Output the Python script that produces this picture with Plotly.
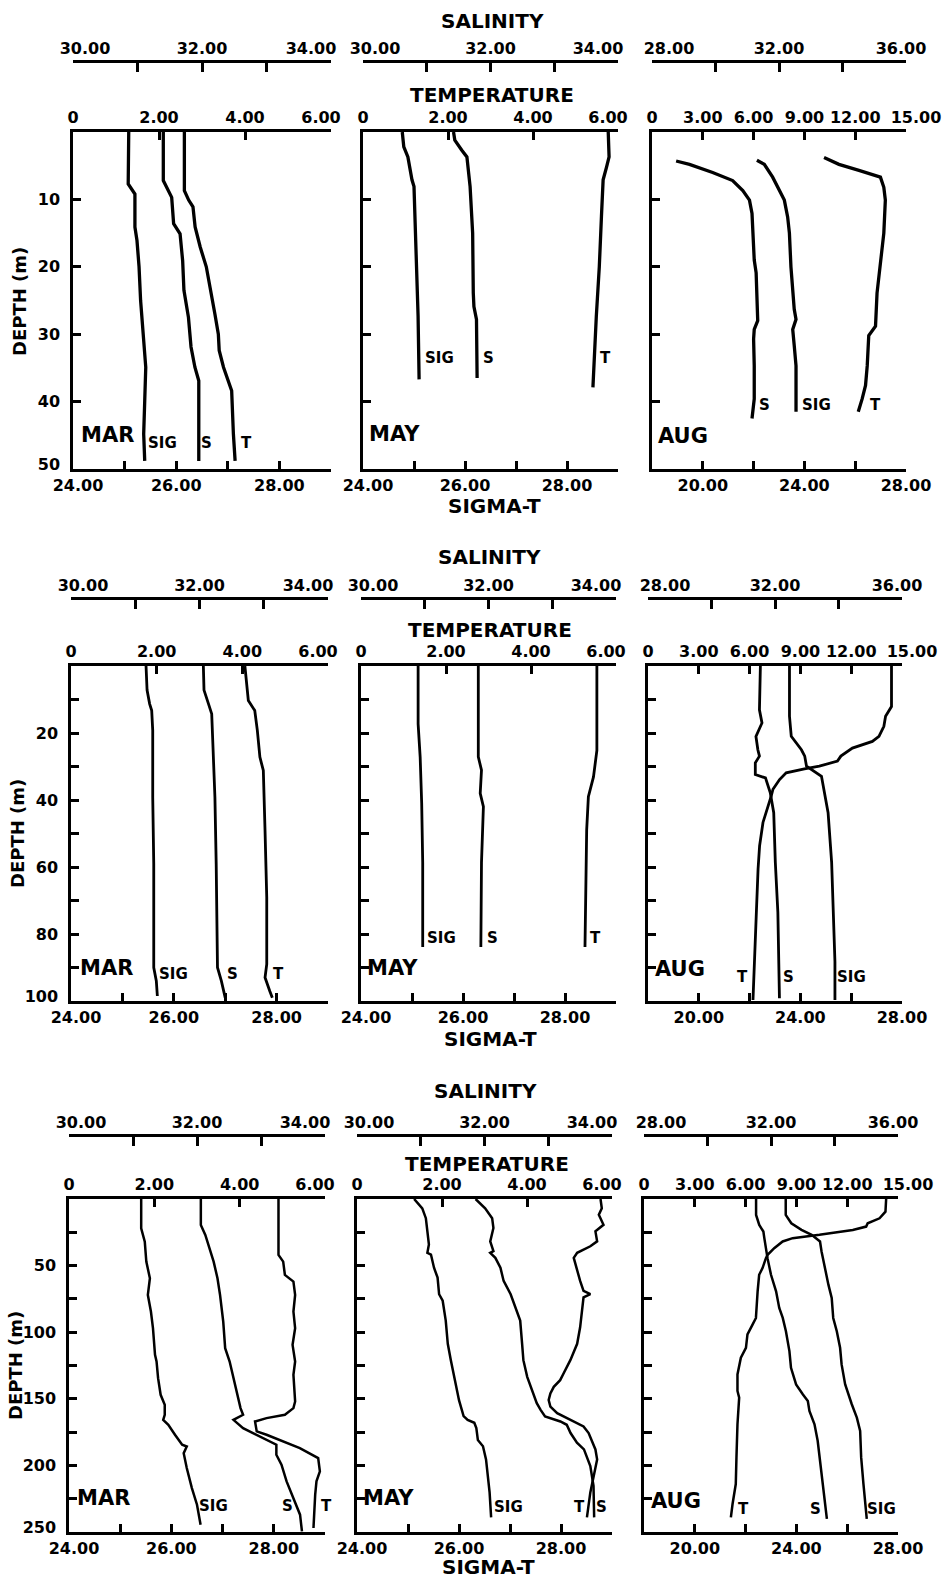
import plotly.graph_objects as go

W, H = 945, 1583
FONT = "DejaVu Sans"

# ---------------- data (depth in m) ----------------
# Row 1 (0-50 m)
MAR50_SIG_DEPTH = [0, 7.7, 9.2, 14.1, 16.1, 20.0, 25.0, 30.0, 34.9, 39.9, 44.8, 48.8]
MAR50_SIG = [25.08, 25.07, 25.20, 25.20, 25.24, 25.28, 25.31, 25.36, 25.41, 25.39, 25.37, 25.39]
MAR50_S_DEPTH = [0, 7.2, 9.7, 13.6, 15.1, 19.1, 23.5, 27.5, 31.9, 34.9, 36.9, 48.8]
MAR50_S = [31.40, 31.40, 31.53, 31.56, 31.66, 31.70, 31.72, 31.79, 31.83, 31.89, 31.95, 31.95]
MAR50_T_DEPTH = [0, 8.7, 10.1, 11.1, 14.1, 17.1, 20.0, 23.0, 27.0, 30.0, 32.4, 34.9, 37.4, 38.4, 44.8, 48.8]
MAR50_T = [2.59, 2.59, 2.69, 2.79, 2.84, 2.96, 3.10, 3.19, 3.30, 3.38, 3.40, 3.50, 3.65, 3.69, 3.73, 3.77]

MAY50_SIG_DEPTH = [0, 2.2, 3.7, 5.7, 7.1, 8.1, 15.0, 22.4, 27.3, 36.7]
MAY50_SIG = [24.77, 24.80, 24.88, 24.92, 24.96, 25.00, 25.03, 25.05, 25.08, 25.10]
MAY50_S_DEPTH = [0, 1.2, 2.7, 3.7, 8.1, 15.0, 23.9, 25.9, 27.8, 36.5]
MAY50_S = [31.42, 31.44, 31.55, 31.63, 31.68, 31.72, 31.73, 31.74, 31.78, 31.79]
MAY50_T_DEPTH = [0, 3.7, 5.2, 7.1, 12.6, 20.0, 27.3, 32.3, 37.9]
MAY50_T = [5.77, 5.79, 5.73, 5.65, 5.61, 5.56, 5.49, 5.45, 5.41]

AUG50_S_DEPTH = [4.3, 4.8, 6.0, 7.2, 8.7, 10.1, 12.1, 15.0, 19.0, 20.9, 24.9, 28.0, 29.3, 30.7, 34.7, 39.6, 42.5]
AUG50_S = [28.76, 29.18, 29.91, 30.54, 30.86, 31.07, 31.15, 31.17, 31.22, 31.28, 31.30, 31.33, 31.22, 31.20, 31.22, 31.22, 31.15]
AUG50_SIG_DEPTH = [4.2, 4.8, 6.7, 8.7, 10.1, 12.6, 15.0, 20.0, 23.9, 26.3, 27.8, 29.3, 31.7, 34.7, 41.5]
AUG50_SIG = [22.13, 22.42, 22.75, 23.01, 23.21, 23.34, 23.41, 23.47, 23.54, 23.60, 23.67, 23.54, 23.60, 23.67, 23.67]
AUG50_T_DEPTH = [3.8, 4.8, 5.7, 6.7, 8.2, 10.1, 15.0, 19.0, 23.9, 28.8, 30.2, 34.7, 37.6, 39.6, 41.5]
AUG50_T = [10.16, 11.04, 12.22, 13.49, 13.69, 13.78, 13.69, 13.49, 13.29, 13.20, 12.80, 12.71, 12.61, 12.41, 12.18]

# Row 2 (0-100 m)
MAR100_SIG_DEPTH = [0, 7.2, 11.3, 13.3, 19.2, 39.2, 59.1, 79.1, 90.0, 94.0, 98.5]
MAR100_SIG = [25.46, 25.48, 25.53, 25.57, 25.59, 25.59, 25.61, 25.61, 25.61, 25.66, 25.68]
MAR100_S_DEPTH = [0, 7.2, 11.3, 14.3, 24.2, 39.2, 59.1, 79.1, 90.0, 94.0, 99.0]
MAR100_S = [32.06, 32.07, 32.14, 32.19, 32.21, 32.24, 32.26, 32.27, 32.28, 32.34, 32.40]
MAR100_T_DEPTH = [0, 4.3, 10.3, 13.3, 19.2, 27.2, 31.2, 49.2, 69.1, 89.0, 93.0, 97.0, 99.0]
MAR100_T = [4.06, 4.10, 4.14, 4.29, 4.35, 4.41, 4.49, 4.53, 4.57, 4.57, 4.53, 4.64, 4.70]

MAY100_SIG_DEPTH = [0, 17.3, 27.1, 41.0, 58.7, 83.9]
MAY100_SIG = [25.12, 25.12, 25.16, 25.19, 25.21, 25.21]
MAY100_S_DEPTH = [0, 27.1, 31.1, 38.0, 42.0, 58.7, 83.9]
MAY100_S = [31.84, 31.84, 31.89, 31.87, 31.92, 31.89, 31.88]
MAY100_T_DEPTH = [0, 25.2, 33.1, 39.0, 48.9, 68.6, 83.9]
MAY100_T = [5.55, 5.55, 5.47, 5.35, 5.31, 5.29, 5.27]

AUG100_T_DEPTH = [0, 12.1, 15.0, 18.0, 21.0, 22.5, 24.5, 26.9, 28.4, 29.9, 30.7, 31.9, 33.9, 36.8, 38.8, 41.8, 46.7, 53.7, 60.6, 73.5, 88.3, 99.7]
AUG100_T = [14.38, 14.38, 14.03, 13.93, 13.64, 13.25, 12.07, 11.39, 11.19, 10.12, 9.24, 8.16, 7.77, 7.38, 7.28, 7.08, 6.79, 6.59, 6.50, 6.40, 6.30, 6.20]
AUG100_S_DEPTH = [0, 13.1, 17.0, 21.0, 25.0, 26.9, 28.9, 32.4, 33.4, 37.8, 43.8, 58.6, 73.5, 88.3, 99.2]
AUG100_S = [31.54, 31.51, 31.59, 31.40, 31.46, 31.51, 31.38, 31.38, 31.70, 31.85, 31.96, 32.01, 32.09, 32.12, 32.14]
AUG100_SIG_DEPTH = [0, 15.0, 21.0, 25.0, 26.9, 29.9, 32.9, 37.8, 43.8, 58.6, 73.5, 88.3, 99.7]
AUG100_SIG = [23.57, 23.57, 23.64, 24.04, 24.17, 24.24, 24.83, 24.96, 25.09, 25.23, 25.29, 25.36, 25.36]

# Row 3 (0-250 m)
MAR250_SIG_DEPTH = [0, 22, 32, 47, 59.5, 72, 84.5, 97, 117, 122, 134.5, 147, 154.5, 162, 165.8, 169.5, 177, 184.5, 185.8, 190.8, 202, 217, 229.5, 244.5]
MAR250_SIG = [25.41, 25.41, 25.48, 25.51, 25.58, 25.54, 25.60, 25.64, 25.68, 25.71, 25.74, 25.79, 25.87, 25.87, 25.84, 25.94, 26.07, 26.21, 26.30, 26.24, 26.30, 26.40, 26.50, 26.57]
MAR250_S_DEPTH = [0, 19.5, 27, 37, 47, 59.5, 72, 92, 112, 122, 134.5, 147, 157, 162, 165.8, 172, 177, 180.8, 184.5, 192, 199.5, 212, 224.5, 237, 249.5]
MAR250_S = [32.06, 32.06, 32.13, 32.19, 32.26, 32.32, 32.36, 32.41, 32.44, 32.51, 32.57, 32.63, 32.68, 32.72, 32.57, 32.72, 32.93, 33.08, 33.24, 33.24, 33.32, 33.40, 33.51, 33.61, 33.64]
MAR250_T_DEPTH = [0, 42, 47, 57, 62, 72, 84.5, 97, 109.5, 122, 132, 139.5, 152, 157, 162, 164.5, 167, 174.5, 177, 187, 194.5, 204.5, 212, 222, 247]
MAR250_T = [4.91, 4.91, 5.02, 5.06, 5.26, 5.30, 5.26, 5.30, 5.24, 5.30, 5.26, 5.27, 5.30, 5.26, 5.06, 4.63, 4.36, 4.40, 4.63, 5.41, 5.84, 5.88, 5.80, 5.77, 5.73]

MAY250_SIG_DEPTH = [0, 7, 14.4, 26.8, 34.2, 40.4, 41.7, 51.6, 59, 71.5, 76.4, 91.3, 108.7, 121, 133.5, 151, 163, 165.8, 168, 172, 181, 185.6, 195.5, 210.4, 220.3, 239]
MAY250_SIG = [25.12, 25.28, 25.35, 25.38, 25.41, 25.38, 25.45, 25.51, 25.58, 25.61, 25.68, 25.74, 25.78, 25.84, 25.91, 26.00, 26.09, 26.17, 26.30, 26.34, 26.37, 26.47, 26.53, 26.57, 26.60, 26.63]
MAY250_S_DEPTH = [0, 7, 14.4, 21.8, 31.8, 39.2, 40.4, 44.2, 51.6, 61.5, 71.5, 81.4, 91.3, 108.7, 121, 133.5, 143.4, 153.3, 158.3, 163.3, 167, 169.5, 175.7, 183, 188, 200.5, 215.4, 239]
MAY250_S = [31.86, 32.01, 32.12, 32.14, 32.09, 32.14, 32.09, 32.17, 32.25, 32.30, 32.41, 32.48, 32.56, 32.59, 32.61, 32.67, 32.75, 32.82, 32.88, 32.95, 33.19, 33.29, 33.35, 33.45, 33.56, 33.66, 33.71, 33.72]
MAY250_T_DEPTH = [0, 7, 11.9, 19.4, 24.3, 31.8, 35.5, 40.4, 44.2, 54.1, 61.5, 69, 71.5, 73.9, 83.9, 96.3, 108.7, 121, 131, 136, 141, 145.9, 150.9, 155.8, 160.8, 165.8, 170.7, 175.7, 188, 195.5, 208, 220.3, 239]
MAY250_T = [5.73, 5.76, 5.69, 5.80, 5.61, 5.65, 5.49, 5.18, 5.10, 5.18, 5.25, 5.33, 5.49, 5.33, 5.29, 5.25, 5.18, 5.02, 4.86, 4.78, 4.63, 4.55, 4.51, 4.55, 4.71, 5.02, 5.33, 5.45, 5.61, 5.65, 5.57, 5.49, 5.41]

AUG250_T_DEPTH = [0, 9.5, 14.5, 18.2, 20.7, 23.2, 26.9, 29.4, 31.9, 36.9, 41.9, 44.4, 51.9, 56.9, 69.3, 89.3, 94.3, 101.7, 111.7, 119.2, 131.7, 144.1, 149.1, 169.1, 194, 214, 229, 239]
AUG250_T = [14.30, 14.26, 13.91, 13.21, 13.12, 12.33, 10.36, 8.78, 8.19, 7.69, 7.30, 7.20, 7.00, 6.80, 6.71, 6.61, 6.41, 6.11, 6.02, 5.72, 5.52, 5.52, 5.62, 5.52, 5.46, 5.42, 5.23, 5.13]
AUG250_S_DEPTH = [0, 12, 19.5, 24.4, 29.4, 36.9, 44.4, 56.9, 69.3, 81.8, 89.3, 99.3, 114.2, 126.7, 139.2, 146.6, 151.6, 159.1, 169.1, 181.5, 194, 214, 226.4, 240.1]
AUG250_S = [31.53, 31.53, 31.63, 31.76, 31.79, 31.84, 31.89, 32.00, 32.16, 32.26, 32.37, 32.47, 32.58, 32.63, 32.79, 33.00, 33.16, 33.21, 33.37, 33.47, 33.53, 33.63, 33.68, 33.76]
AUG250_SIG_DEPTH = [0, 12, 18.2, 23.2, 26.9, 31.9, 39.4, 51.9, 64.3, 74.3, 89.3, 99.3, 111.7, 124.2, 139.2, 154.1, 164.1, 174.1, 194, 214, 229, 240.1]
AUG250_SIG = [23.58, 23.58, 23.80, 24.20, 24.60, 24.93, 24.99, 25.12, 25.26, 25.39, 25.45, 25.59, 25.72, 25.78, 25.92, 26.18, 26.38, 26.51, 26.55, 26.64, 26.71, 26.77]

# ---------------- axis tick definitions ----------------
SAL_TICKS_A = [30, 31, 32, 33, 34]
SAL_TEXT_A = ["30.00", "", "32.00", "", "34.00"]
TEMP_TICKS_A = [0, 2, 4, 6]
TEMP_TEXT_A = ["0", "2.00", "4.00", "6.00"]
SIG_TICKS_A = [24, 25, 26, 27, 28, 29]
SIG_TEXT_A = ["24.00", "", "26.00", "", "28.00", ""]

SAL_TICKS_B = [28, 30, 32, 34, 36]
SAL_TEXT_B = ["28.00", "", "32.00", "", "36.00"]
TEMP_TICKS_B = [0, 3, 6, 9, 12, 15]
TEMP_TEXT_B = ["0", "3.00", "6.00", "9.00", "12.00", "15.00"]
SIG_TICKS_B = [18, 20, 22, 24, 26, 28]
SIG_TEXT_B = ["", "20.00", "", "24.00", "", "28.00"]

# horizontal nudges (px) of individual tick labels, as lettered in the original
SAL_SHIFT_A = [12, 0, 0, 0, -20]
TEMP_SHIFT_A = [0, 0, 0, -10]
SIG_SHIFT_A = [5, 0, 0, 0, 0, 0]
SAL_SHIFT_B = [17, 0, 0, 0, -5]
TEMP_SHIFT_B = [0, 0, 0, 0, 0, 10]
SIG_SHIFT_B = [0, 0, 0, 0, 0, 0]

COL_AXES = [
    dict(sal=(30, 34, SAL_TICKS_A, SAL_TEXT_A, SAL_SHIFT_A), temp=(0, 6, TEMP_TICKS_A, TEMP_TEXT_A, TEMP_SHIFT_A),
         sig=(24, 29, SIG_TICKS_A, SIG_TEXT_A, SIG_SHIFT_A)),
    dict(sal=(30, 34, SAL_TICKS_A, SAL_TEXT_A, SAL_SHIFT_A), temp=(0, 6, TEMP_TICKS_A, TEMP_TEXT_A, TEMP_SHIFT_A),
         sig=(24, 29, SIG_TICKS_A, SIG_TEXT_A, SIG_SHIFT_A)),
    dict(sal=(28, 36, SAL_TICKS_B, SAL_TEXT_B, SAL_SHIFT_B), temp=(0, 15, TEMP_TICKS_B, TEMP_TEXT_B, TEMP_SHIFT_B),
         sig=(18, 28, SIG_TICKS_B, SIG_TEXT_B, SIG_SHIFT_B)),
]

DEPTH_MAX = [50, 100, 250]
DEPTH_TICKS = [[10, 20, 30, 40, 50], list(range(10, 101, 10)), list(range(25, 251, 25))]
DEPTH_TEXT = [["10", "20", "30", "40", "50"],
              ["", "20", "", "40", "", "60", "", "80", "", "100"],
              ["", "50", "", "100", "", "150", "", "200", "", "250"]]
DEPTH_LAST_SHIFT = 5   # bottom depth label sits slightly above its tick in the original

# ---------------- layout geometry (pixels) ----------------
ROW_Y = [(132, 469), (666, 1001), (1199, 1532)]
SAL_LINE = [61, 598, 1135]
COL_X = [[(73, 331), (363, 618), (652, 906)],
         [(71, 328), (361, 616), (648, 902)],
         [(69, 325), (357, 612), (644, 898)]]
LINE_W = [3.3, 2.8, 2.5]

PANELS = [
    ("MAR", (MAR50_T_DEPTH, MAR50_T), (MAR50_S_DEPTH, MAR50_S), (MAR50_SIG_DEPTH, MAR50_SIG)),
    ("MAY", (MAY50_T_DEPTH, MAY50_T), (MAY50_S_DEPTH, MAY50_S), (MAY50_SIG_DEPTH, MAY50_SIG)),
    ("AUG", (AUG50_T_DEPTH, AUG50_T), (AUG50_S_DEPTH, AUG50_S), (AUG50_SIG_DEPTH, AUG50_SIG)),
    ("MAR", (MAR100_T_DEPTH, MAR100_T), (MAR100_S_DEPTH, MAR100_S), (MAR100_SIG_DEPTH, MAR100_SIG)),
    ("MAY", (MAY100_T_DEPTH, MAY100_T), (MAY100_S_DEPTH, MAY100_S), (MAY100_SIG_DEPTH, MAY100_SIG)),
    ("AUG", (AUG100_T_DEPTH, AUG100_T), (AUG100_S_DEPTH, AUG100_S), (AUG100_SIG_DEPTH, AUG100_SIG)),
    ("MAR", (MAR250_T_DEPTH, MAR250_T), (MAR250_S_DEPTH, MAR250_S), (MAR250_SIG_DEPTH, MAR250_SIG)),
    ("MAY", (MAY250_T_DEPTH, MAY250_T), (MAY250_S_DEPTH, MAY250_S), (MAY250_SIG_DEPTH, MAY250_SIG)),
    ("AUG", (AUG250_T_DEPTH, AUG250_T), (AUG250_S_DEPTH, AUG250_S), (AUG250_SIG_DEPTH, AUG250_SIG)),
]

MONTH_POS = [(107, 435), (394, 434), (683, 436),
             (106, 968), (392, 968), (680, 969),
             (103, 1498), (388, 1498), (676, 1501)]
CURVE_LABELS = [
    ("SIG", 162, 443), ("S", 206, 443), ("T", 246, 443),
    ("SIG", 439, 358), ("S", 488, 358), ("T", 605, 358),
    ("S", 764, 405), ("SIG", 816, 405), ("T", 875, 405),
    ("SIG", 173, 974), ("S", 232, 974), ("T", 278, 974),
    ("SIG", 441, 938), ("S", 493, 938), ("T", 595, 938),
    ("T", 742, 977), ("S", 788, 977), ("SIG", 851, 977),
    ("SIG", 213, 1506), ("S", 287, 1506), ("T", 326, 1506),
    ("SIG", 508, 1507), ("T", 579, 1507), ("S", 601, 1507),
    ("T", 743, 1509), ("S", 815, 1509), ("SIG", 881, 1509),
]
TITLES = [
    ("SALINITY", 492, 21), ("TEMPERATURE", 492, 95), ("SIGMA-T", 494, 506),
    ("SALINITY", 489, 557), ("TEMPERATURE", 490, 630), ("SIGMA-T", 490, 1039),
    ("SALINITY", 486, 1091), ("TEMPERATURE", 487, 1164), ("SIGMA-T", 488, 1567),
]
DEPTH_TITLES = [(19, 302), (18, 834), (15, 1366)]


def px(x):
    return x / W


def py(y):
    return 1 - y / H


def xid(n):
    return "x" if n == 1 else f"x{n}"


def xkey(n):
    return "xaxis" if n == 1 else f"xaxis{n}"


def yid(n):
    return "y" if n == 1 else f"y{n}"


def ykey(n):
    return "yaxis" if n == 1 else f"yaxis{n}"


CLEAR = "rgba(0,0,0,0)"
tickfont = dict(family=FONT, size=16, color="black", weight="bold")
common = dict(showline=True, linecolor="black", linewidth=2.5, ticks="inside",
              tickcolor="black", tickwidth=2.5, ticklen=8, showgrid=False,
              zeroline=False, tickfont=tickfont, fixedrange=True, tickmode="array",
              automargin=False, tickangle=0)

fig = go.Figure()
layout = {}
counter = [0]


def new_x():
    counter[0] += 1
    return counter[0]


def add_x_axis(spec, base, y_ref, overlay_of=None):
    """Main axis (line, ticks, un-nudged labels) plus label-only overlay axes for nudged labels."""
    lo, hi, tv, tt, sh = spec
    n = new_x()
    cfg = dict(base)
    if overlay_of is not None:
        cfg["overlaying"] = xid(overlay_of)
    layout[xkey(n)] = dict(common, range=[lo, hi], tickvals=tv,
                           ticktext=[t if s == 0 else "" for t, s in zip(tt, sh)], **cfg)
    root = overlay_of if overlay_of is not None else n
    for s in sorted(set(sh) - {0}):
        m = new_x()
        ocfg = dict(base)
        ocfg["overlaying"] = xid(root)
        layout[xkey(m)] = dict(common, range=[lo, hi], linecolor=CLEAR, tickcolor=CLEAR,
                               tickvals=[v for v, q in zip(tv, sh) if q == s],
                               ticktext=[t for t, q in zip(tt, sh) if q == s],
                               ticklabelshift=s, **ocfg)
        # empty carrier trace so the label-only axis is laid out
        fig.add_trace(go.Scatter(x=[lo, hi], y=[0, 0], mode="none", hoverinfo="skip",
                                 xaxis=xid(m), yaxis=y_ref, showlegend=False))
    return n


for k, (month, tdat, sdat, gdat) in enumerate(PANELS):
    r, c = divmod(k, 3)
    ax = COL_AXES[c]
    x0, x1 = COL_X[r][c]
    ytop, ybot = ROW_Y[r]
    n_y = k + 1
    dom = [px(x0), px(x1)]

    n_sig = add_x_axis(ax["sig"], dict(domain=dom, anchor=yid(n_y), side="bottom"), yid(n_y))
    n_temp = add_x_axis(ax["temp"], dict(domain=dom, anchor=yid(n_y), side="top"), yid(n_y),
                        overlay_of=n_sig)
    n_sal = add_x_axis(ax["sal"], dict(domain=dom, anchor="free", position=py(SAL_LINE[r]),
                                       side="top", ticklen=9), yid(n_y), overlay_of=n_sig)

    ydom = [py(ybot), py(ytop)]
    labels = DEPTH_TEXT[r] if c == 0 else [""] * len(DEPTH_TICKS[r])
    layout[ykey(n_y)] = dict(common, domain=ydom, range=[DEPTH_MAX[r], 0],
                             anchor=xid(n_sig), side="left", tickvals=DEPTH_TICKS[r],
                             ticktext=labels[:-1] + [""], ticklabelstandoff=7)
    if c == 0:
        n_y2 = 20 + r
        layout[ykey(n_y2)] = dict(common, domain=ydom, range=[DEPTH_MAX[r], 0],
                                  anchor=xid(n_sig), side="left", overlaying=yid(n_y),
                                  linecolor=CLEAR, tickcolor=CLEAR,
                                  tickvals=[DEPTH_TICKS[r][-1]], ticktext=[labels[-1]],
                                  ticklabelstandoff=7, ticklabelshift=DEPTH_LAST_SHIFT)
        lo, hi = ax["sig"][0], ax["sig"][1]
        fig.add_trace(go.Scatter(x=[lo, hi], y=[0, 0], mode="none", hoverinfo="skip",
                                 xaxis=xid(n_sig), yaxis=yid(n_y2), showlegend=False))

    line = dict(color="black", width=LINE_W[r])
    fig.add_trace(go.Scatter(x=tdat[1], y=tdat[0], mode="lines", line=line,
                             xaxis=xid(n_temp), yaxis=yid(n_y), name=f"{month} T"))
    fig.add_trace(go.Scatter(x=sdat[1], y=sdat[0], mode="lines", line=line,
                             xaxis=xid(n_sal), yaxis=yid(n_y), name=f"{month} S"))
    fig.add_trace(go.Scatter(x=gdat[1], y=gdat[0], mode="lines", line=line,
                             xaxis=xid(n_sig), yaxis=yid(n_y), name=f"{month} SIG"))

annotations = []


def text(t, x, y, size, angle=0):
    annotations.append(dict(text=t, x=px(x), y=py(y), xref="paper", yref="paper",
                            showarrow=False, xanchor="center", yanchor="middle",
                            textangle=angle,
                            font=dict(family=FONT, size=size, color="black", weight="bold")))


for (month, *_), (x, y) in zip(PANELS, MONTH_POS):
    text(month, x, y, 21)
for t, x, y in CURVE_LABELS:
    text(t, x, y, 15)
for t, x, y in TITLES:
    text(t, x, y, 20)
for x, y in DEPTH_TITLES:
    text("DEPTH (m)", x, y, 18, angle=-90)

fig.update_layout(width=W, height=H, margin=dict(l=0, r=0, t=0, b=0, autoexpand=False),
                  paper_bgcolor="white", plot_bgcolor="white", showlegend=False,
                  annotations=annotations, **layout)

fig.write_html("out.html", config={"displayModeBar": False},
               post_script="document.body.style.margin='0px';document.body.style.overflow='hidden';")
